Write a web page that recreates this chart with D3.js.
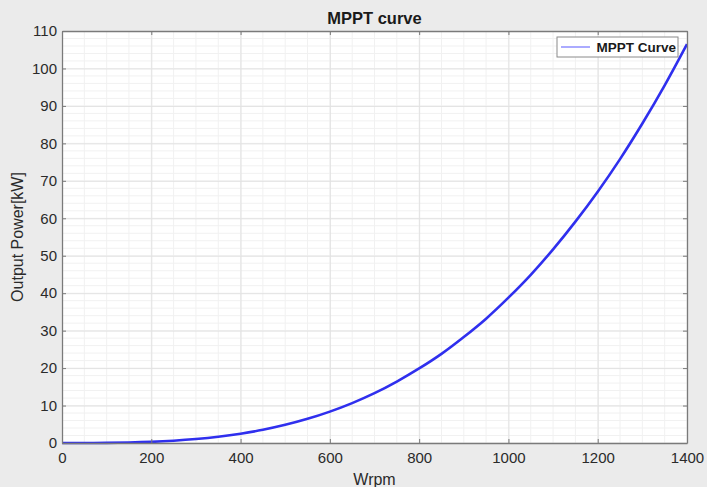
<!DOCTYPE html>
<html>
<head>
<meta charset="utf-8">
<script src="https://cdn.jsdelivr.net/npm/d3@7"></script>
<style>
  body { margin: 0; background: #ebebeb; }
  svg { display: block; font-family: "Liberation Sans", Arial, sans-serif; }
</style>
</head>
<body>
<div id="chart"></div>
<script>
// speed (rpm) and power (kW)
const speed = [0, 50, 100, 150, 200, 250, 300, 350, 400, 450, 500, 550, 600, 650, 700,
    750, 800, 850, 900, 950, 1000, 1050, 1100, 1150, 1200, 1250, 1300, 1350, 1400];
const power = [0, 0.005, 0.04, 0.13, 0.31, 0.61, 1.05, 1.66, 2.48, 3.53, 4.85, 6.45, 8.38, 10.65, 13.3,
    16.4, 19.9, 23.8, 28.3, 33.2, 38.8, 44.9, 51.7, 59.1, 67.1, 75.8, 85.3, 95.5, 106.5];
const xTicks = [0, 200, 400, 600, 800, 1000, 1200, 1400];
const yTicks = [0, 10, 20, 30, 40, 50, 60, 70, 80, 90, 100, 110];
const xMinor = d3.range(0, 1401, 50);
const yMinor = d3.range(0, 111, 2);

const W = 707, H = 487;
const margin = { top: 31, right: 20, bottom: 44, left: 62 };
const width = W - margin.left - margin.right;
const height = H - margin.top - margin.bottom;

const svg = d3.select("#chart")
    .append("svg")
    .attr("width", W)
    .attr("height", H);

svg.append("rect").attr("width", W).attr("height", H).attr("fill", "#ebebeb");

const g = svg.append("g")
    .attr("transform", `translate(${margin.left},${margin.top})`);

const x = d3.scaleLinear().domain([0, 1400]).range([0, width]);
const y = d3.scaleLinear().domain([0, 110]).range([height, 0]);

g.append("rect").attr("width", width).attr("height", height).attr("fill", "white");

// minor grid
g.append("g")
    .selectAll("line")
    .data(xMinor)
    .join("line")
    .attr("x1", d => x(d)).attr("x2", d => x(d))
    .attr("y1", 0).attr("y2", height)
    .attr("stroke", "#f1f1f1");
g.append("g")
    .selectAll("line")
    .data(yMinor)
    .join("line")
    .attr("y1", d => y(d)).attr("y2", d => y(d))
    .attr("x1", 0).attr("x2", width)
    .attr("stroke", "#f1f1f1");

// major grid
g.append("g")
    .call(d3.axisBottom(x).tickValues(xTicks).tickSize(height).tickFormat(""))
    .call(a => a.select(".domain").remove())
    .selectAll("line").attr("stroke", "#e2e2e2");
g.append("g")
    .call(d3.axisLeft(y).tickValues(yTicks).tickSize(-width).tickFormat(""))
    .call(a => a.select(".domain").remove())
    .selectAll("line").attr("stroke", "#e2e2e2");

// curve
const line = d3.line()
    .x((d, i) => x(speed[i]))
    .y(d => y(d))
    .curve(d3.curveMonotoneX);

g.append("path")
    .datum(power)
    .attr("fill", "none")
    .attr("stroke", "#2f2fee")
    .attr("stroke-width", 2.6)
    .attr("d", line);

// axes (ticks pointing inward)
const tickColor = "#7a7a7a";
const fmt = d3.format("d");
const bottomAxis = g.append("g")
    .attr("transform", `translate(0,${height})`)
    .call(d3.axisBottom(x).tickValues(xTicks).tickFormat(fmt).tickSize(-4).tickPadding(9).tickSizeOuter(0));
const leftAxis = g.append("g")
    .call(d3.axisLeft(y).tickValues(yTicks).tickFormat(fmt).tickSize(-4).tickPadding(5).tickSizeOuter(0));
const topAxis = g.append("g")
    .call(d3.axisTop(x).tickValues(xTicks).tickSize(-4).tickFormat("").tickSizeOuter(0));
const rightAxis = g.append("g")
    .attr("transform", `translate(${width},0)`)
    .call(d3.axisRight(y).tickValues(yTicks).tickSize(-4).tickFormat("").tickSizeOuter(0));

[bottomAxis, leftAxis, topAxis, rightAxis].forEach(a => {
    a.selectAll(".domain").attr("stroke", tickColor).attr("stroke-width", 1.3);
    a.selectAll(".tick line").attr("stroke", tickColor);
    a.selectAll("text")
        .attr("fill", "#2a2a2a")
        .style("font-size", "15px");
});

// title
svg.append("text")
    .attr("x", margin.left + width / 2)
    .attr("y", 24)
    .attr("text-anchor", "middle")
    .attr("fill", "#1a1a1a")
    .style("font-size", "16.5px")
    .style("font-weight", "bold")
    .text("MPPT curve");

// axis labels
svg.append("text")
    .attr("x", margin.left + width / 2)
    .attr("y", 485)
    .attr("text-anchor", "middle")
    .attr("fill", "#2a2a2a")
    .style("font-size", "16px")
    .text("Wrpm");

svg.append("text")
    .attr("transform", `translate(23,${margin.top + height / 2}) rotate(-90)`)
    .attr("text-anchor", "middle")
    .attr("fill", "#2a2a2a")
    .style("font-size", "16px")
    .text("Output Power[kW]");

// legend
const legend = g.append("g").attr("transform", `translate(${width - 130},6)`);
legend.append("rect")
    .attr("width", 121).attr("height", 20)
    .attr("fill", "white")
    .attr("stroke", "#8a8a8a");
legend.append("line")
    .attr("x1", 4).attr("x2", 33)
    .attr("y1", 10).attr("y2", 10)
    .attr("stroke", "#7d7dff")
    .attr("stroke-width", 1.3);
legend.append("text")
    .attr("x", 119).attr("y", 15)
    .attr("text-anchor", "end")
    .attr("fill", "#1a1a1a")
    .style("font-size", "13.5px")
    .style("font-weight", "bold")
    .text("MPPT Curve");
</script>
</body>
</html>
